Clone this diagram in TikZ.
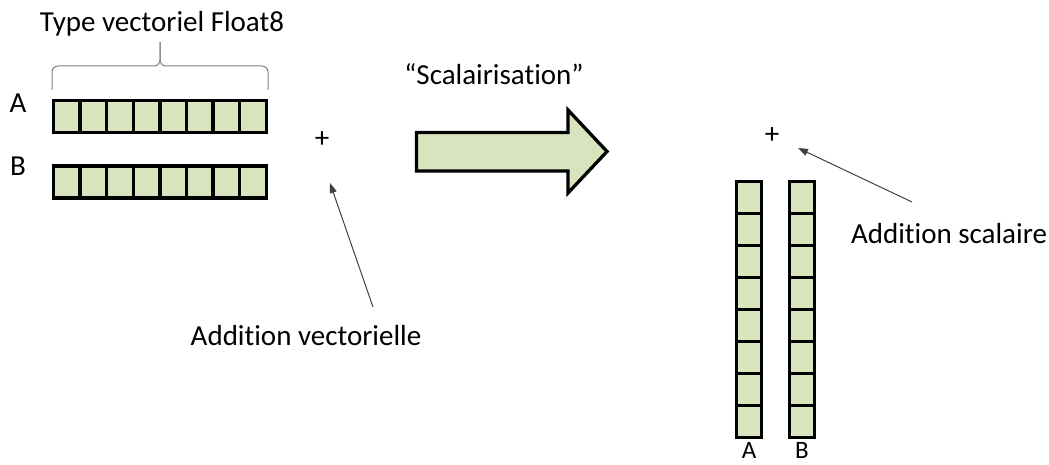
\documentclass[tikz,border=0pt]{standalone}
\usepackage{fontspec}
\setmainfont{Carlito}[Ligatures={NoCommon}]
\usepackage{xcolor}
\usepackage{tikz}
\usetikzlibrary{arrows.meta}
\definecolor{cellgreen}{HTML}{D7E4BD}
\definecolor{pointgray}{HTML}{404040}

\begin{document}
\begin{tikzpicture}[
  x=1pt, y=-1pt,
  font=\fontsize{29}{34}\selectfont,
  >={Triangle[length=10pt,width=7pt]},
  cell/.style={draw, line width=3.3pt, fill=cellgreen, inner sep=0pt, outer sep=0pt,
               minimum width=26.6pt, minimum height=32pt},
  vcell/.style={cell, minimum width=25pt},
  pointer/.style={->, pointgray, line width=1pt},
  bracepath/.style={draw=black!50, line width=1pt, rounded corners=6pt},
  lbl/.style={anchor=base, inner sep=0pt},
  bigarrow/.style={draw, line width=3.3pt, fill=cellgreen, line join=miter},
]
\useasboundingbox (0,0) rectangle (1049,465);
% Left: vector type, rows A and B
\node[lbl] (title) at (162,32) {Type vectoriel Float8};
\draw[bracepath] (52,90) -- (52,66) -- (160,66) -- (160,42);
\draw[bracepath] (268,90) -- (268,66) -- (160,66) -- (160,42);
\node[lbl] (rowA) at (18,113) {A};
\node[lbl] (rowB) at (18,176) {B};
\foreach \i in {1,...,8} {
  \node[cell] (a\i) at ({53.5+26.6*(\i-0.5)},116.5) {};
  \node[cell] (b\i) at ({53.5+26.6*(\i-0.5)},182) {};
}
\node[inner sep=0pt] (plusv) at (322,140) {+};
\node[lbl] (addv) at (306,345) {Addition vectorielle};
\coordinate (vtail) at (373,307);
\coordinate (vtip) at (330,183);
\draw[pointer] (vtail) -- (vtip);
% Middle: scalarisation arrow
\node[lbl] (scal) at (494,85) {“Scalairisation”};
\draw[bigarrow] (416.5,132.5) -- (568,132.5) -- (568,110) -- (607,151.5)
  -- (568,193) -- (568,171) -- (416.5,171) -- cycle;
% Right: columns A and B
\foreach \i in {1,...,8} {
  \node[vcell] (ca\i) at (749,{181.5+32*(\i-0.5)}) {};
  \node[vcell] (cb\i) at (802,{181.5+32*(\i-0.5)}) {};
}
\node[lbl, font=\fontsize{25}{30}\selectfont] (colA) at (749,458) {A};
\node[lbl, font=\fontsize{25}{30}\selectfont] (colB) at (802,458) {B};
\node[inner sep=0pt] (pluss) at (772,136) {+};
\node[lbl] (adds) at (949,243) {Addition scalaire};
\coordinate (stail) at (912,202);
\coordinate (stip) at (798,148);
\draw[pointer] (stail) -- (stip);
\end{tikzpicture}
\end{document}
